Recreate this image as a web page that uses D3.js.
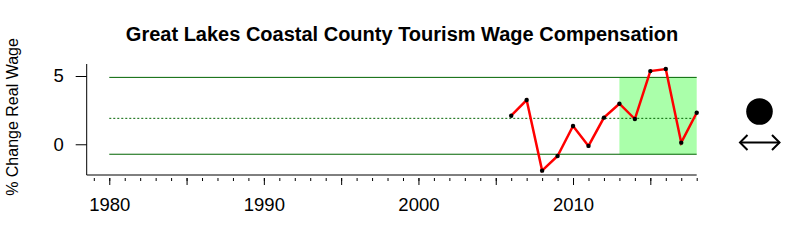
<!DOCTYPE html>
<html>
<head>
<meta charset="utf-8">
<script src="https://cdn.jsdelivr.net/npm/d3@7"></script>
<style>
  body { margin: 0; background: #fff; }
  svg { display: block; font-family: "Liberation Sans", Arial, sans-serif; }
</style>
</head>
<body>
<svg id="chart" width="800" height="240"></svg>
<script>
// data
const years = [2006, 2007, 2008, 2009, 2010, 2011, 2012, 2013, 2014, 2015, 2016, 2017, 2018];
const wageChange = [2.09, 3.24, -1.93, -0.86, 1.34, -0.12, 1.95, 2.97, 1.85, 5.36, 5.51, 0.12, 2.31];
const xLabelTicks = [1980, 1990, 2000, 2010];
const xMajorTicks = [1980, 1985, 1990, 1995, 2000, 2005, 2010, 2015];
const xMinorTicks = d3.range(1979, 2019);
const yTicks = [0, 5];
const bands = { upper: 4.9, mean: 1.9, lower: -0.73 };
const highlight = [2013, 2018];
const lineStart = 1980;

const svg = d3.select('#chart');

const x = d3.scaleLinear().domain([1978.54, 2018]).range([86.7, 696.7]);
const y = d3.scaleLinear().domain([-2.25, 5.88]).range([175, 64]);

// highlighted recent period
svg.append('rect')
    .attr('x', x(highlight[0]))
    .attr('y', y(bands.upper))
    .attr('width', x(highlight[1]) - x(highlight[0]))
    .attr('height', y(bands.lower) - y(bands.upper))
    .attr('fill', '#aaffaa');

// reference lines
const refLine = (v, dash) => svg.append('line')
    .attr('x1', x(lineStart)).attr('x2', x(2018))
    .attr('y1', y(v)).attr('y2', y(v))
    .attr('stroke', '#006400').attr('stroke-width', 1)
    .attr('stroke-dasharray', dash);
refLine(bands.upper, null);
refLine(bands.lower, null);
refLine(bands.mean, '2,2');

// series
const pts = years.map((yr, i) => ({ yr, v: wageChange[i] }));
svg.append('path')
    .datum(pts)
    .attr('fill', 'none')
    .attr('stroke', '#ff0000')
    .attr('stroke-width', 2.5)
    .attr('d', d3.line().x(d => x(d.yr)).y(d => y(d.v)));

svg.append('g').selectAll('circle')
    .data(pts)
    .join('circle')
    .attr('cx', d => x(d.yr))
    .attr('cy', d => y(d.v))
    .attr('r', 2.2)
    .attr('fill', '#000');

// L-shaped frame
svg.append('path')
    .attr('d', `M${x.range()[0]},${y.range()[1]}V${y.range()[0]}H${x.range()[1]}`)
    .attr('fill', 'none').attr('stroke', '#000').attr('stroke-width', 1);

// x axis: minor + major ticks, labels every 10 years
const xMinor = svg.append('g').attr('transform', 'translate(0,178)')
    .call(d3.axisBottom(x).tickValues(xMinorTicks).tickSize(3).tickFormat(''));
const xMajor = svg.append('g').attr('transform', 'translate(0,178)')
    .call(d3.axisBottom(x).tickValues(xMajorTicks).tickSize(7).tickFormat(''));
const xLab = svg.append('g').attr('transform', 'translate(0,178)')
    .call(d3.axisBottom(x).tickValues(xLabelTicks).tickSize(0).tickPadding(20).tickFormat(d3.format('d')));
[xMinor, xMajor, xLab].forEach(g => {
    g.select('.domain').remove();
    g.selectAll('line').attr('stroke', '#000');
});
xLab.selectAll('text').attr('font-size', 18.5).attr('font-family', 'Liberation Sans, Arial, sans-serif').attr('fill', '#000');

// y axis
const yAx = svg.append('g').attr('transform', `translate(${x.range()[0]},0)`)
    .call(d3.axisLeft(y).tickValues(yTicks).tickSize(11).tickPadding(12));
yAx.select('.domain').remove();
yAx.selectAll('line').attr('stroke', '#000');
yAx.selectAll('text').attr('font-size', 18.5).attr('font-family', 'Liberation Sans, Arial, sans-serif').attr('fill', '#000');

// title
svg.append('text')
    .attr('x', 402).attr('y', 41)
    .attr('text-anchor', 'middle')
    .attr('font-size', 20).attr('font-weight', 'bold')
    .text('Great Lakes Coastal County Tourism Wage Compensation');

// y label
svg.append('text')
    .attr('transform', 'translate(18,117) rotate(-90)')
    .attr('text-anchor', 'middle')
    .attr('font-size', 16)
    .text('% Change Real Wage');

// trend / mean indicators on the right
svg.append('circle').attr('cx', 759.5).attr('cy', 111.5).attr('r', 13.3).attr('fill', '#000');
const arrow = svg.append('g').attr('stroke', '#000').attr('stroke-width', 2).attr('fill', 'none');
arrow.append('line').attr('x1', 740).attr('x2', 779.5).attr('y1', 142.5).attr('y2', 142.5);
arrow.append('path').attr('d', 'M747.5,135L740,142.5L747.5,150');
arrow.append('path').attr('d', 'M772,135L779.5,142.5L772,150');
</script>
</body>
</html>
